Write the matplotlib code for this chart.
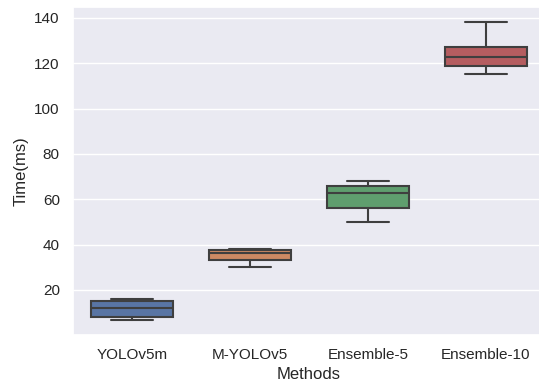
import matplotlib
matplotlib.use("Agg")
import matplotlib.pyplot as plt
import seaborn as sns

methods = ["YOLOv5m", "M-YOLOv5", "Ensemble-5", "Ensemble-10"]
whisker_low = [6.9, 30.1, 50.0, 115.1]
q1 = [8.1, 33.0, 56.0, 118.6]
median = [12.0, 36.1, 62.6, 122.9]
q3 = [14.9, 37.6, 65.9, 127.3]
whisker_high = [16.0, 38.0, 67.9, 138.1]

sns.set_theme(style="darkgrid")
plt.rcParams["font.family"] = ["Liberation Sans", "DejaVu Sans"]

colors = sns.color_palette("deep", 4, desat=0.75)
edge = "#3f3f3f"

fig = plt.figure(figsize=(5.39, 3.85), dpi=100)
ax = fig.add_axes([73 / 539, 50.5 / 385, 472 / 539, 327.2 / 385])

stats = [
    dict(label=m, whislo=lo, q1=a, med=md, q3=b, whishi=hi, fliers=[])
    for m, lo, a, md, b, hi in zip(methods, whisker_low, q1, median, q3, whisker_high)
]
bp = ax.bxp(stats, positions=range(len(methods)), widths=0.7, patch_artist=True,
            showfliers=False,
            boxprops=dict(edgecolor=edge, linewidth=1.5),
            medianprops=dict(color=edge, linewidth=1.5),
            whiskerprops=dict(color=edge, linewidth=1.5),
            capprops=dict(color=edge, linewidth=1.5))
for patch, c in zip(bp["boxes"], colors):
    patch.set_facecolor(c)

ax.set_xlim(-0.5, len(methods) - 0.5)
lo, hi = min(whisker_low), max(whisker_high)
pad = 0.05 * (hi - lo)
ax.set_ylim(lo - pad, hi + pad)
ax.set_xticks(range(len(methods)))
ax.set_xticklabels(methods)
ax.set_xlabel("Methods")
ax.set_ylabel("Time(ms)")
ax.grid(axis="x", visible=False)

fig.savefig("out.png", dpi=100)
